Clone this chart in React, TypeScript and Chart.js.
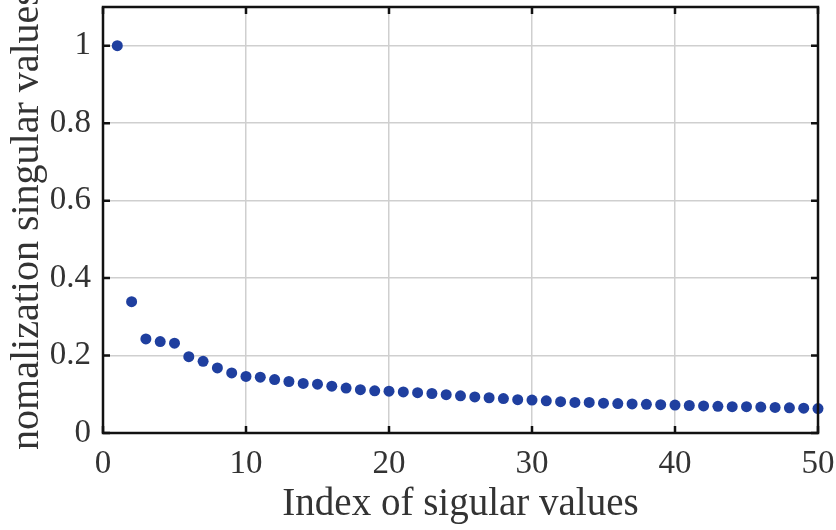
import React, { useEffect, useRef } from "react";
import { Chart, registerables } from "chart.js";

Chart.register(...registerables);

const indices: number[] = Array.from({ length: 50 }, (_, i) => i + 1);
const singularValues: number[] = [
  1.0, 0.339, 0.243, 0.236, 0.232, 0.197, 0.185, 0.168, 0.155, 0.146,
  0.144, 0.138, 0.133, 0.128, 0.126, 0.121, 0.116, 0.112, 0.109, 0.108,
  0.106, 0.104, 0.102, 0.099, 0.096, 0.093, 0.091, 0.089, 0.086, 0.085,
  0.083, 0.081, 0.079, 0.079, 0.077, 0.076, 0.075, 0.074, 0.073, 0.072,
  0.071, 0.070, 0.069, 0.068, 0.068, 0.067, 0.066, 0.065, 0.064, 0.063,
];
const xTicks: number[] = [0, 10, 20, 30, 40, 50];
const yTicks: number[] = [0, 0.2, 0.4, 0.6, 0.8, 1];
const xTitle = "Index of sigular values";
const yTitle = "nomalization singular values";

const FONT = "'Liberation Serif', 'Times New Roman', serif";

const boxPlugin = {
  id: "boxTicks",
  afterDraw(chart: any) {
    const { ctx, chartArea: a, scales } = chart;
    ctx.save();
    ctx.strokeStyle = "#111";
    ctx.lineWidth = 2.5;
    const L = 7;
    ctx.beginPath();
    for (const v of xTicks) {
      const x = scales.x.getPixelForValue(v);
      ctx.moveTo(x, a.bottom);
      ctx.lineTo(x, a.bottom - L);
      ctx.moveTo(x, a.top);
      ctx.lineTo(x, a.top + L);
    }
    for (const v of yTicks) {
      const y = scales.y.getPixelForValue(v);
      ctx.moveTo(a.left, y);
      ctx.lineTo(a.left + L, y);
      ctx.moveTo(a.right, y);
      ctx.lineTo(a.right - L, y);
    }
    ctx.stroke();
    ctx.strokeRect(a.left, a.top, a.right - a.left, a.bottom - a.top);
    ctx.restore();
  },
};

export default function App() {
  const ref = useRef<HTMLCanvasElement>(null);
  useEffect(() => {
    if (!ref.current) return;
    const chart = new Chart(ref.current, {
      type: "scatter",
      data: {
        datasets: [
          {
            data: indices.map((x, i) => ({ x, y: singularValues[i] })),
            backgroundColor: "#1f3f9f",
            borderColor: "#1f3f9f",
            pointRadius: 5.5,
            pointStyle: "circle",
            borderWidth: 0,
            clip: false as any,
          },
        ],
      },
      options: {
        animation: false,
        responsive: false,
        maintainAspectRatio: false,
        layout: { padding: { top: 7, right: 18, left: 0, bottom: 0 } },
        plugins: { legend: { display: false }, tooltip: { enabled: false } },
        scales: {
          x: {
            type: "linear",
            min: 0,
            max: 50,
            afterBuildTicks: (s: any) => {
              s.ticks = xTicks.map((v) => ({ value: v }));
            },
            afterFit: (s: any) => {
              s.height = 97;
              s.paddingLeft = 0;
              s.paddingRight = 0;
            },
            grid: { color: "#cfcfcf", lineWidth: 1.5, drawTicks: false },
            border: { display: false },
            ticks: {
              color: "#333",
              font: { family: FONT, size: 33 },
              padding: 12,
              maxRotation: 0,
            },
            title: {
              display: true,
              text: xTitle,
              color: "#333",
              font: { family: FONT, size: 39 },
              padding: { top: 0, bottom: 2 },
            },
          },
          y: {
            type: "linear",
            min: 0,
            max: 1.1,
            afterBuildTicks: (s: any) => {
              s.ticks = yTicks.map((v) => ({ value: v }));
            },
            afterFit: (s: any) => {
              s.width = 103;
              s.paddingTop = 0;
              s.paddingBottom = 0;
            },
            grid: { color: "#cfcfcf", lineWidth: 1.5, drawTicks: false },
            border: { display: false },
            ticks: {
              color: "#333",
              font: { family: FONT, size: 33 },
              padding: 12,
              callback: (v: any) => String(v),
            },
            title: {
              display: true,
              text: yTitle,
              color: "#333",
              font: { family: FONT, size: 40 },
              padding: { top: 3, bottom: 0 },
            },
          },
        },
      },
      plugins: [boxPlugin],
    });
    return () => chart.destroy();
  }, []);
  return (
    <div style={{ position: "fixed", left: 0, top: 0, width: 836, height: 530, background: "#fff" }}>
      <canvas ref={ref} width={836} height={530} style={{ width: 836, height: 530 }} />
    </div>
  );
}
